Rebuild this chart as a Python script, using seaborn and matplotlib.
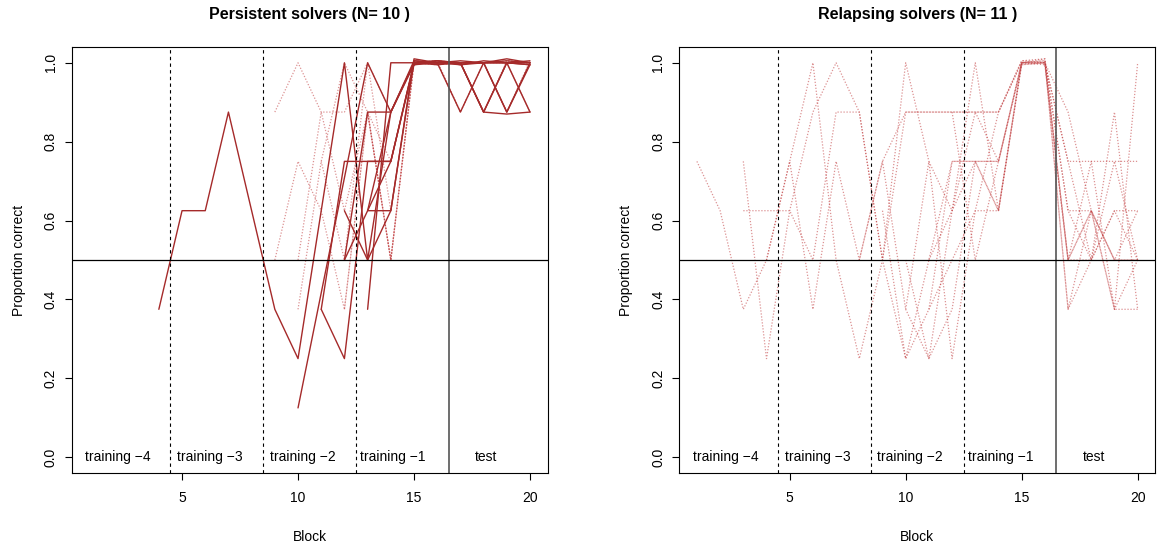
import numpy as np
import pandas as pd
import matplotlib
matplotlib.use("Agg")
import matplotlib.pyplot as plt
import seaborn as sns

N = np.nan
blocks = list(range(1, 21))

titles = ["Persistent solvers (N= 10 )", "Relapsing solvers (N= 11 )"]
phase_labels = ["training \u22124", "training \u22123", "training \u22122", "training \u22121", "test"]
phase_label_x = [2.25, 6.2, 10.2, 14.1, 18.1]
phase_bounds = [4.5, 8.5, 12.5]
test_bound = 16.5
chance = 0.5
x_ticks = [5, 10, 15, 20]
y_ticks = [0.0, 0.2, 0.4, 0.6, 0.8, 1.0]

# ---- Persistent solvers: solid lines (blocks 1..20) ----
ps1 = [N, N, N, .375, .625, .625, .875, .625, .375, .25, N, 1.0, .5, .875, 1.0, 1.0, 1.0, .875, 1.0, .995]
ps2 = [N, N, N, N, N, N, N, N, N, .125, N, N, 1.0, .875, 1.005, 1.0, .875, 1.0, 1.0, 1.0]
ps3 = [N, N, N, N, N, N, N, N, N, N, .375, .75, .75, .75, 1.0, 1.0, 1.0, .875, .87, .875]
ps4 = [N, N, N, N, N, N, N, N, N, N, .375, .25, .75, .75, .995, 1.005, 1.0, 1.0, .875, 1.0]
ps5 = [N, N, N, N, N, N, N, N, N, N, N, .5, .875, .875, 1.0, .995, 1.0, 1.0, 1.0, .875]
ps6 = [N, N, N, N, N, N, N, N, N, N, N, .625, .5, .625, 1.005, 1.0, 1.005, 1.0, 1.005, 1.0]
ps7 = [N, N, N, N, N, N, N, N, N, N, N, N, .375, 1.0, 1.0, 1.005, .995, 1.005, 1.0, .995]
ps8 = [N, N, N, N, N, N, N, N, N, N, N, N, .625, .875, .995, 1.0, 1.0, .875, 1.0, 1.005]
ps9 = [N, N, N, N, N, N, N, N, N, N, N, N, .625, .75, 1.0, 1.005, 1.0, 1.0, .875, .995]
ps10 = [N, N, N, N, N, N, N, N, N, N, N, .5, .625, .625, 1.01, 1.0, .995, 1.0, 1.01, 1.0]
persist_solid = [ps1, ps2, ps3, ps4, ps5, ps6, ps7, ps8, ps9, ps10]

# ---- Persistent solvers: dotted lines ----
pd1 = [N, N, N, N, N, N, N, N, .875, 1.0, .875, .875, 1.0, .875, 1.0, 1.0, 1.0, 1.0, 1.005, 1.0]
pd2 = [N, N, N, N, N, N, N, N, .5, .75, .625, .375, .875, .5, 1.0, 1.005, .875, 1.0, 1.0, .875]
pd3 = [N, N, N, N, N, N, N, N, N, .375, .75, 1.0, .875, .5, 1.005, 1.0, 1.0, .875, 1.0, 1.0]
pd4 = [N, N, N, N, N, N, N, N, N, .5, .875, .625, .875, .75, 1.0, .995, 1.0, 1.0, .875, 1.005]
pd5 = [N, N, N, N, N, N, N, N, N, N, .75, .5, 1.0, .625, 1.0, 1.0, .875, 1.0, 1.0, 1.0]
pd6 = [N, N, N, N, N, N, N, N, N, N, N, .375, .875, .5, 1.005, 1.0, 1.0, 1.0, 1.0, .875]
pd7 = [N, N, N, N, N, N, N, N, N, N, N, N, .875, .5, 1.0, 1.005, 1.0, .875, 1.005, 1.0]
persist_dotted = [pd1, pd2, pd3, pd4, pd5, pd6, pd7]

# ---- Relapsing solvers: dotted lines ----
rd1 = [.75, .625, .375, .5, .75, 1.0, .5, .25, .5, .875, .875, .875, .875, .875, 1.0, 1.0, .5, .625, .375, .5]
rd2 = [N, N, .75, .25, .625, .875, 1.0, .875, .5, .25, .375, .75, .75, .75, 1.0, 1.005, .375, .5, .625, .625]
rd3 = [N, N, .625, .625, .625, .5, .875, .875, .5, 1.0, .75, .25, .625, .625, 1.0, 1.0, .75, .75, .75, .75]
rd4 = [N, N, N, .5, .75, .375, .75, .5, .75, .375, .25, .625, 1.0, .625, .995, 1.0, .875, .625, .5, .5]
rd5 = [N, N, N, N, N, N, N, .5, .75, .875, .875, .875, .875, .875, 1.005, 1.01, .625, .5, .875, .375]
rd6 = [N, N, N, N, N, N, N, N, .625, .25, .5, .75, .75, .75, 1.0, 1.0, .5, .75, .375, 1.0]
rd7 = [N, N, N, N, N, N, N, N, N, .375, .75, .625, .875, .75, 1.0, 1.005, .375, .625, .5, .5]
rd8 = [N, N, N, N, N, N, N, N, N, .5, .25, .375, .75, .625, 1.0, .995, .5, .5, .75, .5]
rd9 = [N, N, N, N, N, N, N, N, N, N, .375, .5, .625, .875, 1.005, 1.0, .625, .625, .5, .625]
rd10 = [N, N, N, N, N, N, N, N, N, N, .5, .625, .75, .625, 1.0, 1.01, .5, .625, .375, .375]
rd11 = [N, N, N, N, N, N, N, N, N, N, N, .875, .5, .75, .995, 1.0, .75, .5, .625, .5]
relapse_dotted = [rd1, rd2, rd3, rd4, rd5, rd6, rd7, rd8, rd9, rd10, rd11]

sns.set_style("ticks")
plt.rcParams["font.family"] = ["Liberation Sans", "DejaVu Sans"]
plt.rcParams["text.color"] = "black"
plt.rcParams["axes.labelcolor"] = "black"
plt.rcParams["xtick.color"] = "black"
plt.rcParams["ytick.color"] = "black"

LINE_COL = "#A52A2A"
DOT_COL = "#C0393B"
FS = 10

fig = plt.figure(figsize=(11.59, 5.42), dpi=100)
ax_l = fig.add_axes([0.0618, 0.1273, 0.4107, 0.786])
ax_r = fig.add_axes([0.5861, 0.1273, 0.4107, 0.786])


def draw_series(ax, series, solid):
    for vals in series:
        df = pd.DataFrame({"Block": blocks, "Prop": vals}).dropna()
        if solid:
            sns.lineplot(data=df, x="Block", y="Prop", ax=ax, estimator=None, sort=False,
                         color=LINE_COL, lw=1.0, legend=False)
        else:
            sns.lineplot(data=df, x="Block", y="Prop", ax=ax, estimator=None, sort=False,
                         color=DOT_COL, lw=0.9, alpha=0.55, linestyle=(0, (1, 1.4)), legend=False)


draw_series(ax_l, persist_dotted, solid=False)
draw_series(ax_l, persist_solid, solid=True)
draw_series(ax_r, relapse_dotted, solid=False)

for ax, title in zip([ax_l, ax_r], titles):
    ax.set_xlim(0.24, 20.76)
    ax.set_ylim(-0.04, 1.04)
    for b in phase_bounds:
        ax.axvline(b, color="black", lw=0.8, linestyle=(0, (3, 3)))
    ax.axvline(test_bound, color="#555555", lw=1.2)
    ax.axhline(chance, color="black", lw=0.9)
    for lab, xx in zip(phase_labels, phase_label_x):
        ax.text(xx, 0.0, lab, ha="center", va="center", fontsize=FS, color="black")
    ax.set_xticks(x_ticks)
    ax.set_yticks(y_ticks)
    ax.set_yticklabels([f"{v:.1f}" for v in y_ticks], rotation=90, va="center")
    ax.tick_params(axis="x", direction="out", length=5, width=0.8, labelsize=FS, pad=8,
                   color="black", labelcolor="black")
    ax.tick_params(axis="y", direction="out", length=5, width=0.8, labelsize=FS, pad=5,
                   color="black", labelcolor="black")
    for s in ax.spines.values():
        s.set_visible(True)
        s.set_color("black")
        s.set_linewidth(0.8)
    ax.set_xlabel("Block", fontsize=FS, labelpad=18, color="black")
    ax.set_ylabel("Proportion correct", fontsize=FS, labelpad=13, color="black")
    ax.set_title(title, fontsize=11.5, fontweight="bold", pad=20, color="black")

fig.savefig("out.png", dpi=100)
